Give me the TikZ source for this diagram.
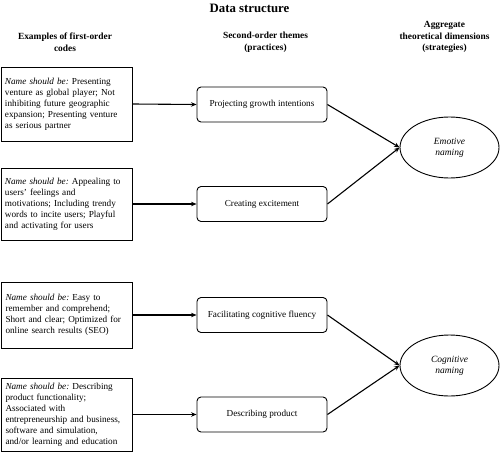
\documentclass[tikz,border=0pt]{standalone}
\usepackage{fontspec}
\setmainfont{Liberation Serif}
\usetikzlibrary{shapes.geometric,arrows.meta}
\begin{document}
\begin{tikzpicture}[x=1pt,y=1pt,
  codebox/.style={draw,line width=1pt,text width=123pt,align=left,inner xsep=4pt,inner ysep=0pt,font=\fontsize{9.2}{11}\selectfont},
  themebox/.style={draw,line width=0.9pt,rounded corners=4pt,minimum width=130pt,minimum height=35pt,font=\fontsize{9.2}{11}\selectfont},
  dimell/.style={draw,ellipse,line width=0.9pt,minimum width=99pt,minimum height=61pt,inner sep=0pt,align=center,font=\fontsize{9.5}{11}\selectfont\itshape},
  hdr/.style={align=center,font=\fontsize{9.4}{11.5}\selectfont\bfseries},
  conn/.style={line width=1.1pt,-{Stealth[length=5.5pt,width=4.5pt]}}]
\useasboundingbox (0,0) rectangle (500,-452);
\node[font=\fontsize{12.8}{14}\selectfont\bfseries] (title) at (249.5,-8) {Data structure};
\node[hdr] (h1) at (65,-42) {Examples of first-order\\codes};
\node[hdr] (h2) at (265.5,-42) {Second-order themes\\(practices)};
\node[hdr] (h3) at (444.5,-37) {Aggregate\\theoretical dimensions\\(strategies)};

\node[codebox,minimum height=74pt] (c1) at (66.5,-104) {\textit{Name should be:}\ Presenting\\venture as global player; Not\\inhibiting future geographic\\expansion; Presenting venture\\as serious partner};
\node[codebox,minimum height=72pt] (c2) at (66.5,-204) {\textit{Name should be:}\ Appealing to\\users' feelings and\\motivations; Including trendy\\words to incite users; Playful\\and activating for users};
\node[codebox,minimum height=66pt] (c3) at (67,-315) {\textit{Name should be:}\ Easy to\\remember and comprehend;\\Short and clear; Optimized for\\online search results (SEO)};
\node[codebox,minimum height=73pt] (c4) at (67,-414.5) {\textit{Name should be:}\ Describing\\product functionality;\\Associated with\\entrepreneurship and business,\\software and simulation,\\and/or learning and education};

\node[themebox] (t1) at (262,-104.5) {Projecting growth intentions};
\node[themebox] (t2) at (262,-204) {Creating excitement};
\node[themebox] (t3) at (262,-315) {Facilitating cognitive fluency};
\node[themebox] (t4) at (262,-414.5) {Describing product};

\node[dimell] (d1) at (449.5,-147.5) {Emotive\\naming};
\node[dimell] (d2) at (449.5,-365.5) {Cognitive\\naming};

\draw[conn] (c1.east) -- (t1.west);
\draw[conn] (c2.east) -- (t2.west);
\draw[conn] (c3.east) -- (t3.west);
\draw[conn] (c4.east) -- (t4.west);
\draw[conn] (t1.east) -- (d1.west);
\draw[conn] (t2.east) -- (d1.west);
\draw[conn] (t3.east) -- (d2.west);
\draw[conn] (t4.east) -- (d2.west);
\end{tikzpicture}
\end{document}
